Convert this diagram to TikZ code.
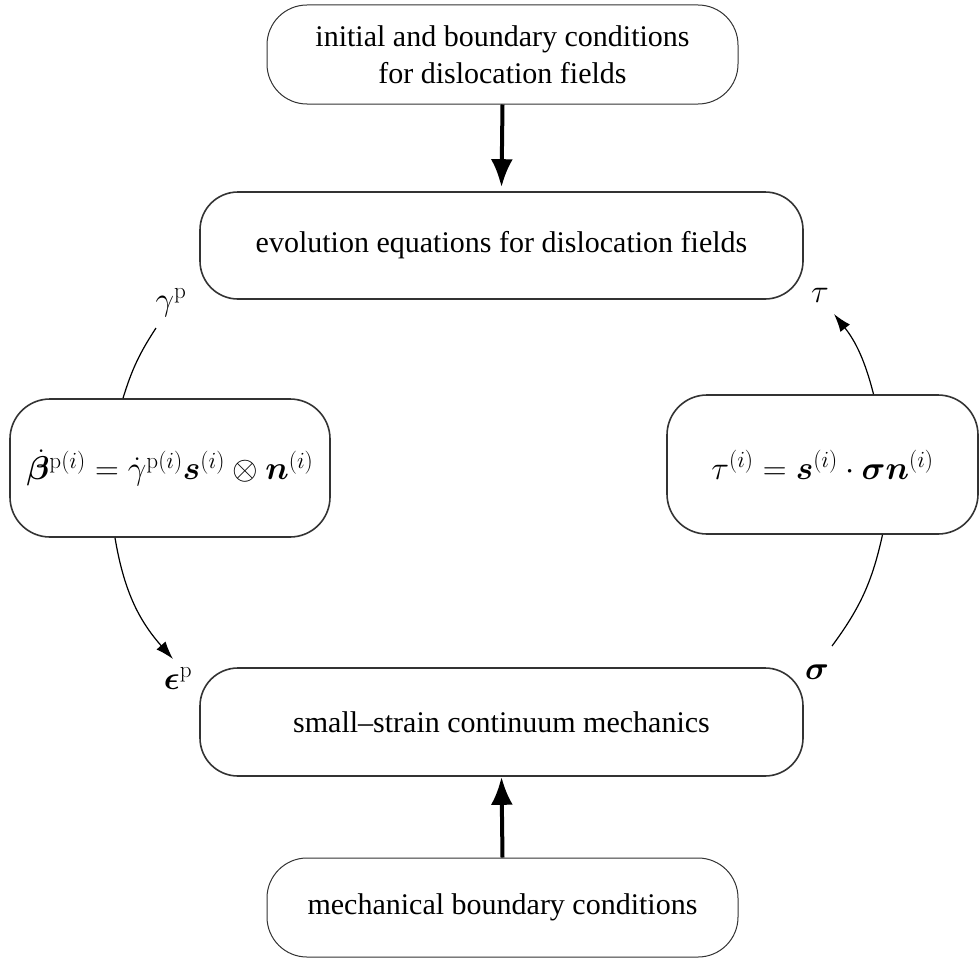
\RequirePackage{fix-cm}
\documentclass[tikz,border=0pt]{standalone}
\usepackage{amsmath}
\usepackage{bm}
\usepackage[no-math]{fontspec}
\setmainfont{Liberation Serif}
\usetikzlibrary{arrows.meta}
\definecolor{edge}{HTML}{333333}
\DeclareMathSizes{30}{30}{21}{15}
\DeclareMathSizes{33}{33}{23.1}{16.5}
\tikzset{
  thinbox/.style={draw=edge, line width=1pt, rounded corners=40pt, align=center, inner sep=0pt},
  boldbox/.style={draw=edge, line width=1.6pt, rounded corners=38pt, align=center, inner sep=0pt},
  mathtext/.style={font=\fontsize{33}{40}\selectfont},
  bigarrow/.style={line width=4pt, -{Latex[length=28pt,width=22pt]}},
  arc/.style={line width=1.2pt},
  arcarrow/.style={line width=1.2pt, -{Latex[length=18pt,width=12pt]}},
  lab/.style={inner sep=0pt, mathtext}
}
\begin{document}
\begin{tikzpicture}[x=1pt,y=-1pt]
\useasboundingbox (0,0) rectangle (979,958);
\fontsize{30}{37}\selectfont
\node[thinbox, minimum width=471pt, minimum height=99pt] (init) at (502.5,54.5)
  {initial and boundary conditions\\for dislocation fields};
\node[boldbox, minimum width=603pt, minimum height=107pt] (evo) at (501.5,245.5)
  {evolution equations for dislocation fields};
\node[boldbox, mathtext, rounded corners=40pt, minimum width=320pt, minimum height=138pt] (beta) at (170,468)
  {$\dot{\bm{\beta}}^{\mathrm{p}(i)}=\dot{\gamma}^{\mathrm{p}(i)}\bm{s}^{(i)}\otimes\bm{n}^{(i)}$};
\node[boldbox, mathtext, rounded corners=40pt, minimum width=311pt, minimum height=139pt] (tau) at (822.5,464.5)
  {$\tau^{(i)}=\bm{s}^{(i)}\cdot\bm{\sigma}\bm{n}^{(i)}$};
\node[boldbox, minimum width=603pt, minimum height=108pt] (mech) at (501.5,722)
  {small\textendash strain continuum mechanics};
\node[thinbox, minimum width=471pt, minimum height=99pt] (mbc) at (502.5,907.5)
  {mechanical boundary conditions};

\node[lab] (gp) at (171,303) {$\gamma^{\mathrm{p}}$};
\node[lab] (ep) at (178,679) {$\bm{\epsilon}^{\mathrm{p}}$};
\node[lab] (sg) at (817,672) {$\bm{\sigma}$};
\node[lab] (tl) at (820,295) {$\tau$};

\coordinate (g1) at (156,328);
\coordinate (e1) at (173,659);
\coordinate (s1) at (832,646);
\coordinate (t1) at (834,314);

\draw[bigarrow] (init.south) -- ([yshift=4pt]evo.north);
\draw[bigarrow] (mbc.north) -- (mech.south);

\draw[arc] (g1) to[bend right=8] ([xshift=-47pt]beta.north);
\draw[arcarrow] ([xshift=-55pt]beta.south) to[bend right=16] (e1);
\draw[arc] (s1) to[bend right=12] ([xshift=60pt]tau.south);
\draw[arcarrow] ([xshift=51pt]tau.north) to[bend right=12] (t1);
\end{tikzpicture}
\end{document}
